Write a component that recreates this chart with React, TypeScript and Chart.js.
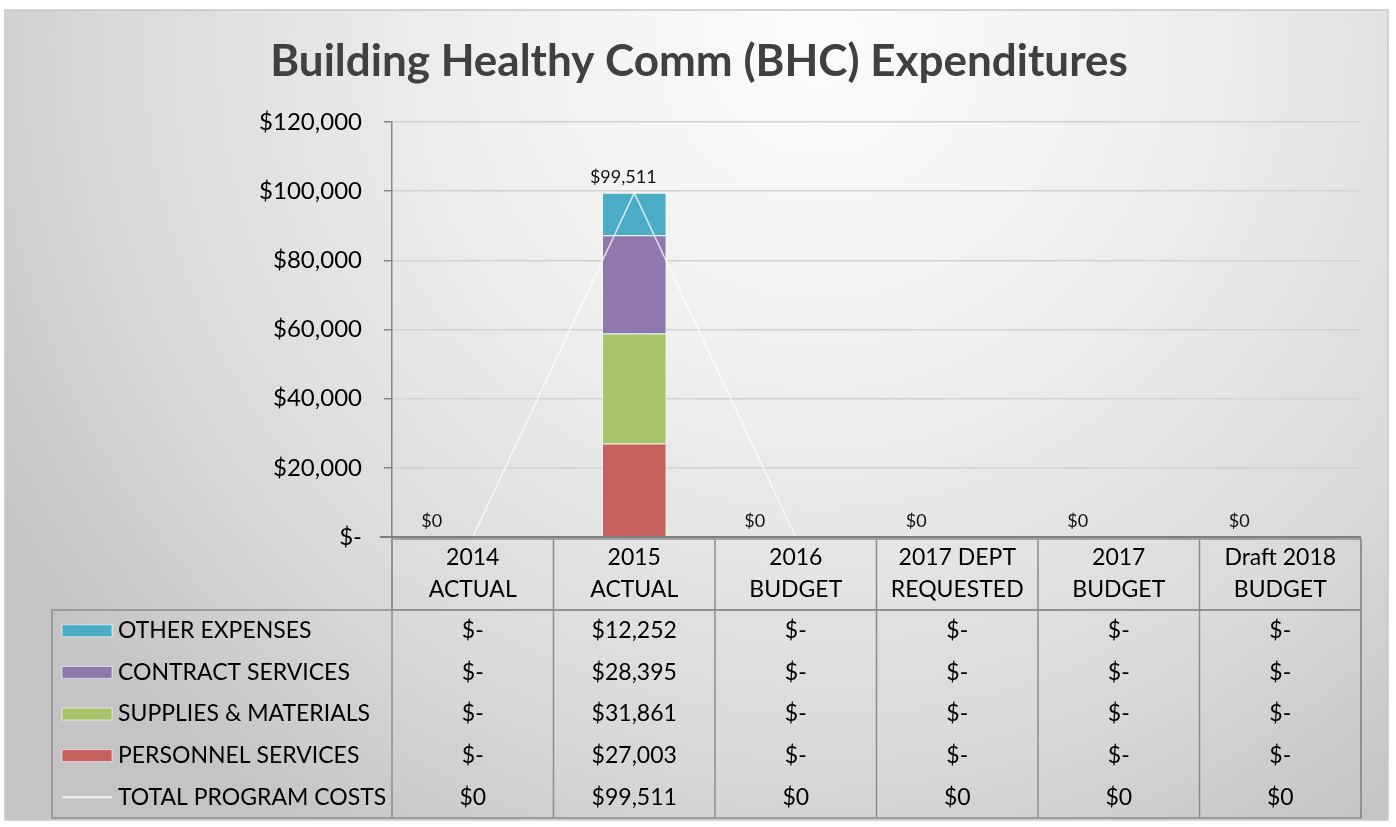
import React, { useEffect, useRef } from "react";
import { Chart, registerables } from "chart.js";

Chart.register(...registerables);

const TITLE = "Building Healthy Comm (BHC) Expenditures";
const categories: string[][] = [
  ["2014", "ACTUAL"],
  ["2015", "ACTUAL"],
  ["2016", "BUDGET"],
  ["2017 DEPT", "REQUESTED"],
  ["2017", "BUDGET"],
  ["Draft 2018", "BUDGET"],
];
const personnel = [0, 27003, 0, 0, 0, 0];
const supplies = [0, 31861, 0, 0, 0, 0];
const contract = [0, 28395, 0, 0, 0, 0];
const other = [0, 12252, 0, 0, 0, 0];
const totals = [0, 99511, 0, 0, 0, 0];
const yTicks = [0, 20000, 40000, 60000, 80000, 100000, 120000];

const FONT = "Lato, 'Noto Sans', sans-serif";

const fmtMoney = (v: number) => "$" + v.toLocaleString("en-US");
const fmtDash = (v: number) => (v === 0 ? "$-" : fmtMoney(v));

const tableRows = [
  { label: "OTHER EXPENSES", color: "#4BACC6", values: other, fmt: fmtDash, line: false },
  { label: "CONTRACT SERVICES", color: "#8E78AE", values: contract, fmt: fmtDash, line: false },
  { label: "SUPPLIES & MATERIALS", color: "#A6C46A", values: supplies, fmt: fmtDash, line: false },
  { label: "PERSONNEL SERVICES", color: "#C6615E", values: personnel, fmt: fmtDash, line: false },
  { label: "TOTAL PROGRAM COSTS", color: "#F2F2F2", values: totals, fmt: fmtMoney, line: true },
];

const bgPlugin = {
  id: "bg",
  beforeDraw(chart: any) {
    const { ctx, width, height } = chart;
    ctx.save();
    ctx.fillStyle = "#ffffff";
    ctx.fillRect(0, 0, width, height);
    const fx = 5, fy = 10, fw = 1383, fh = 810;
    const g = ctx.createRadialGradient(820, 40, 20, 820, 40, 950);
    g.addColorStop(0, "#fbfbfb");
    g.addColorStop(0.35, "#efefef");
    g.addColorStop(0.75, "#d9d9d9");
    g.addColorStop(1, "#c4c4c4");
    ctx.fillStyle = g;
    ctx.fillRect(fx, fy, fw, fh);
    ctx.strokeStyle = "#c8c8c8";
    ctx.lineWidth = 1.5;
    ctx.strokeRect(fx, fy, fw, fh);
    // title
    ctx.fillStyle = "#404040";
    ctx.font = `bold 44px ${FONT}`;
    ctx.textAlign = "center";
    ctx.textBaseline = "middle";
    ctx.fillText(TITLE, 699, 62);
    ctx.restore();
  },
};

const overlayPlugin = {
  id: "overlay",
  afterDraw(chart: any) {
    const { ctx, chartArea } = chart;
    const x = chart.scales.x;
    const y = chart.scales.y;
    const left = chartArea.left;
    const right = chartArea.right;
    const n = categories.length;
    const cw = (right - left) / n;
    const bottom = chartArea.bottom;
    ctx.save();

    // data labels for totals
    ctx.font = `18px ${FONT}`;
    ctx.fillStyle = "#111";
    ctx.textAlign = "center";
    ctx.textBaseline = "middle";
    totals.forEach((v, i) => {
      const px = x.getPixelForValue(i);
      const py = y.getPixelForValue(v);
      const dx = v === 0 ? -41 : -11;
      ctx.fillText(fmtMoney(v), px + dx, py - 16);
    });

    // axis baseline
    ctx.strokeStyle = "#7f7f7f";
    ctx.lineWidth = 2;
    ctx.beginPath();
    ctx.moveTo(left - 12, bottom);
    ctx.lineTo(right, bottom);
    ctx.stroke();

    // table
    const borderColor = "#8c8c8c";
    const headTop = bottom + 2;
    const headBottom = bottom + 73;
    const tableLeft = 52;
    const rowH = (818 - headBottom) / tableRows.length;
    const tableBottom = headBottom + rowH * tableRows.length;

    ctx.strokeStyle = borderColor;
    ctx.lineWidth = 1.5;
    ctx.strokeRect(left, headTop, right - left, headBottom - headTop);
    ctx.strokeRect(tableLeft, headBottom, right - tableLeft, tableBottom - headBottom);
    for (let i = 0; i <= n; i++) {
      const vx = left + i * cw;
      ctx.beginPath();
      ctx.moveTo(vx, headTop);
      ctx.lineTo(vx, tableBottom);
      ctx.stroke();
    }

    // header text
    ctx.fillStyle = "#000";
    ctx.font = `23px ${FONT}`;
    ctx.textAlign = "center";
    categories.forEach((lines, i) => {
      const cx = x.getPixelForValue(i);
      ctx.fillText(lines[0], cx, headTop + 19);
      ctx.fillText(lines[1], cx, headTop + 51);
    });

    // rows
    tableRows.forEach((row, r) => {
      const cy = headBottom + rowH * r + rowH / 2;
      if (row.line) {
        ctx.strokeStyle = row.color;
        ctx.lineWidth = 2;
        ctx.beginPath();
        ctx.moveTo(62, cy);
        ctx.lineTo(112, cy);
        ctx.stroke();
      } else {
        ctx.fillStyle = row.color;
        ctx.fillRect(62, cy - 6, 50, 12);
        ctx.strokeStyle = "rgba(255,255,255,0.6)";
        ctx.lineWidth = 1;
        ctx.strokeRect(62, cy - 6, 50, 12);
      }
      ctx.fillStyle = "#000";
      ctx.font = `23px ${FONT}`;
      ctx.textAlign = "left";
      ctx.fillText(row.label, 118, cy);
      ctx.textAlign = "center";
      row.values.forEach((v, i) => {
        ctx.fillText(row.fmt(v), x.getPixelForValue(i), cy);
      });
    });

    ctx.restore();
  },
};

export default function App() {
  const ref = useRef<HTMLCanvasElement | null>(null);
  useEffect(() => {
    if (!ref.current) return;
    const barDs = (label: string, data: number[], color: string) => ({
      type: "bar" as const,
      label,
      data,
      backgroundColor: color,
      borderColor: "rgba(255,255,255,0.55)",
      borderWidth: 1,
      stack: "bars",
      order: 1,
      barPercentage: 0.4,
      categoryPercentage: 1,
    });
    const chart = new Chart(ref.current, {
      type: "bar",
      data: {
        labels: categories.map((c) => c.join(" ")),
        datasets: [
          barDs("PERSONNEL SERVICES", personnel, "#C6615E"),
          barDs("SUPPLIES & MATERIALS", supplies, "#A6C46A"),
          barDs("CONTRACT SERVICES", contract, "#8E78AE"),
          barDs("OTHER EXPENSES", other, "#4BACC6"),
          {
            type: "line" as const,
            label: "TOTAL PROGRAM COSTS",
            data: totals,
            borderColor: "rgba(255,255,255,0.75)",
            borderWidth: 1.5,
            pointRadius: 0,
            stack: "line",
            order: 0,
            tension: 0,
          } as any,
        ],
      },
      plugins: [bgPlugin, overlayPlugin],
      options: {
        responsive: false,
        animation: false,
        layout: { padding: { left: 0, right: 35, top: 122, bottom: 290 } },
        plugins: {
          legend: { display: false },
          title: { display: false },
          tooltip: { enabled: false },
        },
        scales: {
          x: {
            stacked: true,
            display: false,
            grid: { display: false },
          },
          y: {
            stacked: true,
            min: 0,
            max: 120000,
            afterFit: (s: any) => {
              s.width = 392;
            },
            afterBuildTicks: (s: any) => {
              s.ticks = yTicks.map((v) => ({ value: v }));
            },
            border: { display: true, color: "#868686", width: 1.5 },
            grid: {
              color: "#d2d2d2",
              lineWidth: 1.5,
              drawTicks: true,
              tickLength: 8,
              tickColor: "#868686",
            },
            ticks: {
              padding: 22,
              color: "#000",
              font: { family: FONT, size: 24 },
              callback: (v: any) => (Number(v) === 0 ? "$-" : fmtMoney(Number(v))),
            },
          },
        },
      },
    });
    return () => chart.destroy();
  }, []);
  return (
    <div style={{ position: "fixed", left: 0, top: 0, width: 1396, height: 827 }}>
      <canvas ref={ref} width={1396} height={827} style={{ width: 1396, height: 827 }} />
    </div>
  );
}
